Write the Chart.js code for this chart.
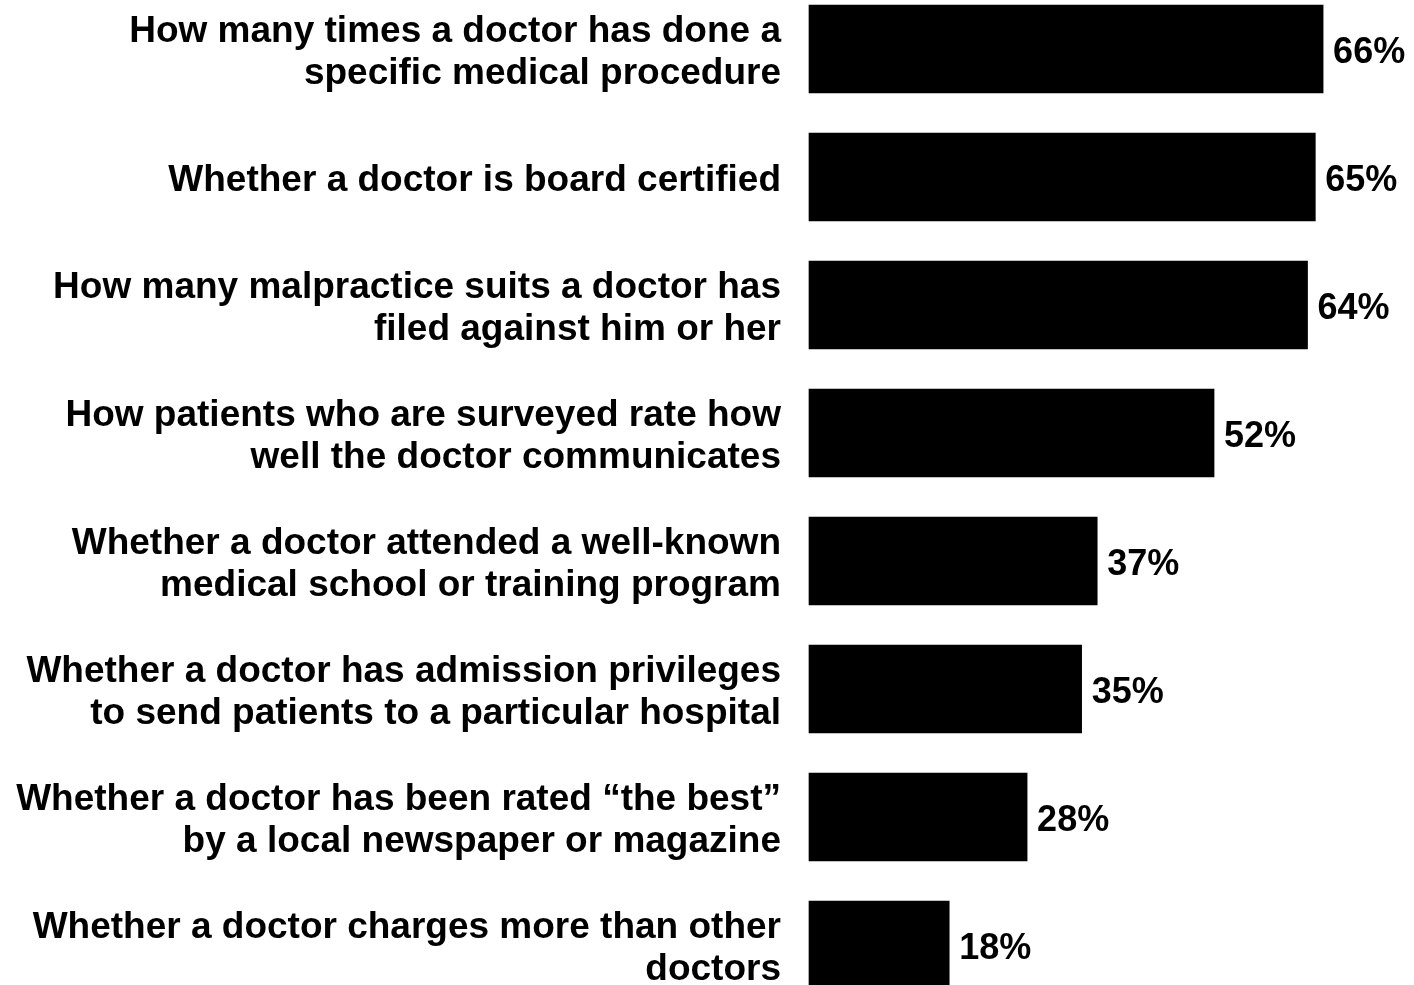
<!DOCTYPE html>
<html>
<head>
<meta charset="utf-8">
<script src="https://cdn.jsdelivr.net/npm/chart.js@4.4.0/dist/chart.umd.min.js"></script>
<style>
  html, body { margin: 0; padding: 0; background: #fff; }
  #wrap { position: relative; width: 1414px; height: 985px; }
</style>
</head>
<body>
<div id="wrap"><canvas id="chart"></canvas></div>
<script>
// survey items, one array per label (lines wrap as shown)
const categories = [
  ["How many times a doctor has done a", "specific medical procedure"],
  ["Whether a doctor is board certified"],
  ["How many malpractice suits a doctor has", "filed against him or her"],
  ["How patients who are surveyed rate how", "well the doctor communicates"],
  ["Whether a doctor attended a well-known", "medical school or training program"],
  ["Whether a doctor has admission privileges", "to send patients to a particular hospital"],
  ["Whether a doctor has been rated \u201cthe best\u201d", "by a local newspaper or magazine"],
  ["Whether a doctor charges more than other", "doctors"]
];
const values = [66, 65, 64, 52, 37, 35, 28, 18];

const FONT = "'Liberation Sans', Arial, sans-serif";

// percentage printed just past the end of each bar
const valueLabels = {
  id: "valueLabels",
  afterDatasetsDraw(chart) {
    const ctx = chart.ctx;
    const meta = chart.getDatasetMeta(0);
    ctx.save();
    ctx.font = "bold 36px " + FONT;
    ctx.fillStyle = "#000";
    ctx.textAlign = "left";
    ctx.textBaseline = "middle";
    meta.data.forEach((bar, i) => {
      ctx.fillText(values[i] + "%", bar.x + 10, bar.y + 4);
    });
    ctx.restore();
  }
};

new Chart(document.getElementById("chart"), {
  type: "bar",
  data: {
    labels: categories,
    datasets: [{
      data: values,
      backgroundColor: "#000",
      borderWidth: 0,
      barThickness: 88,
      clip: false
    }]
  },
  options: {
    indexAxis: "y",
    responsive: true,
    maintainAspectRatio: false,
    animation: false,
    layout: { padding: { top: 49, bottom: 40, left: 0, right: 13 } },
    plugins: { legend: { display: false }, tooltip: { enabled: false } },
    scales: {
      x: {
        min: 0,
        max: 76,
        display: false,
        grid: { display: false }
      },
      y: {
        offset: false,
        border: { display: false },
        grid: { display: false, drawTicks: false },
        afterFit(scale) {
          scale.width = 809;
          // labels may hang past the first/last bar; don't shrink the plot for them
          scale.paddingTop = 0;
          scale.paddingBottom = 0;
          // nudge the label text a few px down so it sits level with the bars
          if (!scale._nudged) {
            const draw = scale.drawLabels;
            scale.drawLabels = function (area) {
              this.ctx.save();
              this.ctx.translate(0, 4);
              draw.call(this, area);
              this.ctx.restore();
            };
            scale._nudged = true;
          }
        },
        ticks: {
          padding: 28,
          color: "#000",
          crossAlign: "near",
          font: { family: FONT, size: 37, weight: "bold", lineHeight: 1.135 }
        }
      }
    }
  },
  plugins: [valueLabels]
});
</script>
</body>
</html>
